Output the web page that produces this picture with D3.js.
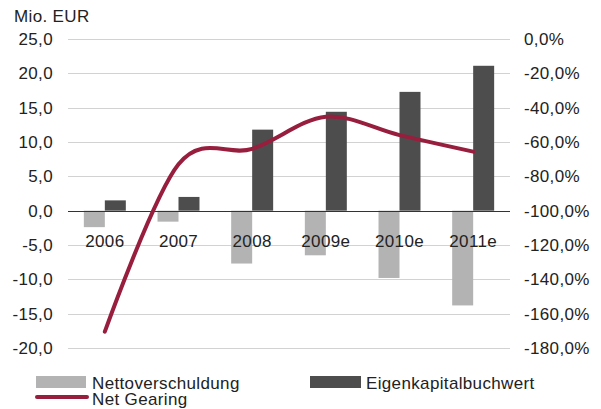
<!DOCTYPE html>
<html>
<head>
<meta charset="utf-8">
<script src="https://cdnjs.cloudflare.com/ajax/libs/d3/7.8.5/d3.min.js"></script>
<style>
  body { margin: 0; background: #fff; }
  text { font-family: "Liberation Sans", Arial, sans-serif; font-size: 17px; fill: #222; letter-spacing: 0.35px; }
</style>
</head>
<body>
<div id="chart"></div>
<script>
    // data
    const years = ["2006", "2007", "2008", "2009e", "2010e", "2011e"];
    const nettoverschuldung = [-2.4, -1.6, -7.7, -6.5, -9.8, -13.8];
    const eigenkapital = [1.5, 2.0, 11.8, 14.4, 17.3, 21.1];
    const netGearing = [-170.5, -73, -64, -45.3, -56, -65.6];
    const leftTicks = [25, 20, 15, 10, 5, 0, -5, -10, -15, -20];
    const rightTicks = [0, -20, -40, -60, -80, -100, -120, -140, -160, -180];

    const width = 601, height = 409;
    const plot = { left: 68, right: 510, top: 39, bottom: 348 };

    const svg = d3.select("#chart").append("svg")
        .attr("width", width)
        .attr("height", height);

    const x = d3.scaleBand().domain(years).range([plot.left, plot.right]);
    const x1 = d3.scaleBand().domain(["netto", "eigen"])
        .range([0, x.bandwidth()]).paddingOuter(0.755);
    const y = d3.scaleLinear().domain([-20, 25]).range([plot.bottom, plot.top]);
    const y2 = d3.scaleLinear().domain([-180, 0]).range([plot.bottom, plot.top]);

    const fmt = v => d3.format(".1f")(v).replace("−", "-").replace(".", ",");

    // gridlines
    svg.append("g").selectAll("line")
        .data(leftTicks.filter(d => d !== 0))
        .join("line")
        .attr("x1", plot.left).attr("x2", plot.right)
        .attr("y1", d => Math.round(y(d)) + 0.5).attr("y2", d => Math.round(y(d)) + 0.5)
        .attr("stroke", "#d2d2d2").attr("stroke-width", 1);

    // left axis labels
    svg.append("g").selectAll("text")
        .data(leftTicks)
        .join("text")
        .attr("x", 53).attr("y", d => y(d) + 6)
        .attr("text-anchor", "end")
        .text(d => fmt(d));

    // right axis labels
    svg.append("g").selectAll("text")
        .data(rightTicks)
        .join("text")
        .attr("x", 524).attr("y", d => y2(d) + 6)
        .text(d => fmt(d) + "%");

    svg.append("text").attr("x", 14).attr("y", 22).text("Mio. EUR");

    // bars
    const groups = svg.append("g").selectAll("g")
        .data(years)
        .join("g")
        .attr("transform", d => `translate(${x(d)},0)`);

    groups.append("rect")
        .attr("x", x1("netto")).attr("width", x1.bandwidth())
        .attr("y", (d, i) => y(0))
        .attr("height", (d, i) => y(nettoverschuldung[i]) - y(0))
        .attr("fill", "#b3b3b3");

    groups.append("rect")
        .attr("x", x1("eigen")).attr("width", x1.bandwidth())
        .attr("y", (d, i) => y(eigenkapital[i]))
        .attr("height", (d, i) => y(0) - y(eigenkapital[i]))
        .attr("fill", "#4d4d4d");

    // zero line
    svg.append("line")
        .attr("x1", plot.left).attr("x2", plot.right)
        .attr("y1", Math.round(y(0)) + 0.5).attr("y2", Math.round(y(0)) + 0.5)
        .attr("stroke", "#333").attr("stroke-width", 1);

    // category labels
    svg.append("g").selectAll("text")
        .data(years)
        .join("text")
        .attr("x", d => x(d) + x.bandwidth() / 2)
        .attr("y", 247)
        .attr("text-anchor", "middle")
        .text(d => d);

    // net gearing line
    const line = d3.line()
        .x((d, i) => x(years[i]) + x.bandwidth() / 2)
        .y(d => y2(d))
        .curve(d3.curveCardinal.tension(0));

    svg.append("path")
        .datum(netGearing)
        .attr("d", line)
        .attr("fill", "none")
        .attr("stroke", "#981e3e")
        .attr("stroke-width", 4)
        .attr("stroke-linecap", "round");

    // legend
    const legend = svg.append("g");
    legend.append("rect").attr("x", 36).attr("y", 376).attr("width", 50).attr("height", 12).attr("fill", "#b3b3b3");
    legend.append("text").attr("x", 92).attr("y", 389).text("Nettoverschuldung");
    legend.append("rect").attr("x", 310).attr("y", 376).attr("width", 51).attr("height", 12).attr("fill", "#4d4d4d");
    legend.append("text").attr("x", 366).attr("y", 389).text("Eigenkapitalbuchwert");
    legend.append("line").attr("x1", 37).attr("x2", 87).attr("y1", 397).attr("y2", 397)
        .attr("stroke", "#981e3e").attr("stroke-width", 4).attr("stroke-linecap", "round");
    legend.append("text").attr("x", 92).attr("y", 405).text("Net Gearing");
</script>
</body>
</html>
